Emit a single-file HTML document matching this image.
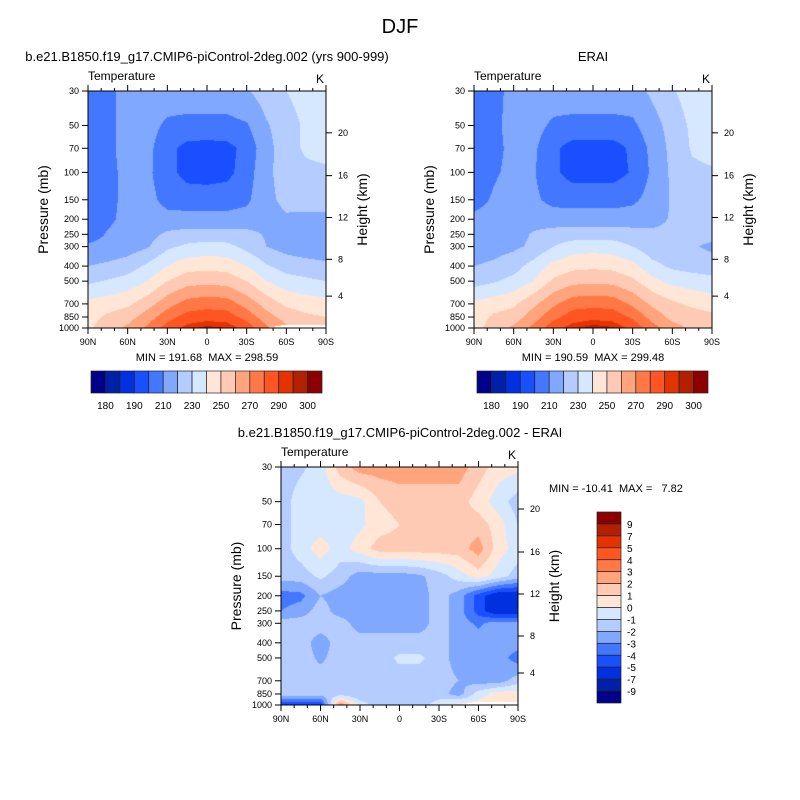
<!DOCTYPE html>
<html><head><meta charset="utf-8">
<style>
body{margin:0;background:#fff;width:800px;height:800px;overflow:hidden;position:relative;font-family:"Liberation Sans",sans-serif;}
canvas{position:absolute;}
svg{position:absolute;left:0;top:0;}
text{font-family:"Liberation Sans",sans-serif;fill:#000;white-space:pre;}
</style></head><body>
<canvas id="c1" width="238" height="237" style="left:88px;top:91px"></canvas>
<canvas id="c2" width="238" height="237" style="left:474px;top:91px"></canvas>
<canvas id="c3" width="237" height="238" style="left:281px;top:467px"></canvas>
<svg id="s" width="800" height="800"></svg>
<script>
const levels=[30,50,70,100,150,200,250,300,400,500,700,850,1000];
const lats=[90,75,60,45,30,15,0,-15,-30,-45,-60,-75,-90];
const latTicks=['90N','60N','30N','0','30S','60S','90S'];
const pTicks=[30,50,70,100,150,200,250,300,400,500,700,850,1000];
const hTicks=[4,8,12,16,20];
const hTickOffsets=[206,169,127,85,42];
const colors=['#000088','#0020a8','#0030e0','#1a4fff','#4477ff','#80a8ff','#b4ccff','#d6e8ff','#ffe6d6','#ffcab4','#ffa47c','#ff7846','#ff5522','#e23300','#b32000','#8b0000'];
const tempLevels=[180,185,190,200,210,220,230,240,250,260,270,280,290,295,300];
const tempLabels=['180','190','210','230','250','270','290','300'];
const diffLevels=[-9,-7,-5,-4,-3,-2,-1,0,1,2,3,4,5,7,9];
const modelPsfc=[1000,1000,1000,1000,1000,1000,1000,1000,1000,1000,950,950,950];
const eraiPsfc=[1000,1000,1000,1000,1000,1000,1000,1000,1000,1000,1000,1000,1000];
const modelT=[
[202,208,213,215,216,216,216,216,219,225,230,235,236],
[205,208,213,214,208,207,207,207,209,219,225,232,235],
[205,208,213,213,203,197,196,197,203,217,225,232,234],
[205,208,212,212,204,196,195,197,205,218,224,227,228],
[205,207,213,213,207,206,206,206,208,218,222,225,225],
[205,208,213,215,213,213,213,213,214,217,219,217,217],
[205,211,214,216,222,224,224,224,223,219,216,216,216],
[212,213,215,219,228,232,234,233,227,220,216,214,214],
[220,222,225,232,240,246,247,246,240,231,226,224,222],
[228,231,234,240,250,256,257,256,250,240,234,232,230],
[243,245,248,256,266,274,276,275,266,256,248,245,244],
[246,252,256,265,276,284,286,285,276,264,256,252,250],
[248,256,262,272,284,293,297,295,286,272,262,257,254]];
const eraiT=[
[205,207,213,215,216,216,216,216,216,222,229,235,236],
[205,208,213,214,208,207,207,207,208,216,224,232,235],
[205,208,212,212,202,196,196,196,202,213,223,231,233],
[205,209,212,211,202,196,196,196,201,212,222,228,229],
[207,211,214,212,207,206,206,206,208,214,221,223,224],
[212,213,214,216,215,215,215,215,215,217,221,223,223],
[213,214,216,221,224,225,225,225,224,222,222,223,223],
[214,216,218,222,230,235,236,235,230,224,223,221,218],
[220,222,226,234,243,247,248,247,243,233,228,226,225],
[226,229,233,240,252,257,258,257,252,243,237,235,233],
[242,245,248,258,268,276,277,276,268,258,252,248,246],
[244,252,255,265,277,285,287,286,278,266,257,255,252],
[246,255,262,273,286,294,298,296,287,274,264,258,256]];
const diffT=[
[-1.5,-1.2,-0.5,1.5,2.5,2.5,2.5,2.5,2.5,2.5,1.5,0.5,0.3],
[-1.5,-0.5,-0.5,-0.5,-0.3,1.0,1.5,1.5,1.5,1.5,0.5,-0.5,-1.5],
[-1.5,-0.5,-0.5,-0.5,-0.2,0.5,1.0,1.5,1.5,1.5,1.5,0.5,-1.0],
[-1.5,-0.5,0.5,-0.5,0.5,1.5,1.5,1.5,1.5,1.5,2.5,0.5,-0.5],
[-1.5,-1.5,-0.8,-1.5,-2.5,-2.5,-2.5,-2.2,-1.5,-0.5,0.5,-0.5,-1.5],
[-3.5,-3.3,-2.0,-2.5,-2.5,-2.5,-2.5,-2.5,-1.5,-2.5,-4.5,-6,-6],
[-3.0,-2.5,-1.5,-2.5,-2.5,-2.5,-2.5,-2.5,-1.5,-2.5,-4.5,-6,-6],
[-1.5,-1.5,-1.5,-1.5,-2.5,-2.5,-2.5,-2.5,-1.5,-2.5,-3.2,-2.5,-2.5],
[-1.5,-1.5,-2.5,-1.5,-1.5,-1.5,-1.5,-1.5,-1.5,-2.5,-2.5,-2.5,-2.5],
[-1.5,-1.5,-2.2,-1.5,-1.5,-1.5,-0.8,-0.8,-1.5,-2.5,-2.5,-2.5,-3.5],
[-1.5,-1.5,-1.5,-1.5,-1.5,-1.5,-1.5,-1.5,-1.5,-2.0,-2.5,-2.5,-1.5],
[-1.5,-1.5,-1.5,-1.5,-1.8,-1.5,-1.5,-1.5,-1.5,-2.5,-0.5,0.5,0.5],
[-5,-5,-5,3,-0.5,-1.5,-1.5,-1.5,-0.5,0.5,0.5,0.5,0.5]];

const LP0=Math.log10(30),LP1=Math.log10(1000);
function pToFrac(p){return (Math.log10(p)-LP0)/(LP1-LP0);}
function latToFrac(l){return (90-l)/180;}
function colorIdx(v,lv){let i=0;while(i<lv.length&&v>=lv[i])i++;return i;}
function hex(c){return [parseInt(c.slice(1,3),16),parseInt(c.slice(3,5),16),parseInt(c.slice(5,7),16)];}
const rgb=colors.map(hex);
function drawField(id,grid,lv,psfc){
  const cv=document.getElementById(id),ctx=cv.getContext('2d');
  const W=cv.width,H=cv.height,img=ctx.createImageData(W,H);
  const lf=levels.map(pToFrac);
  for(let y=0;y<H;y++){
    const fy=(y+0.5)/H;let j=0;while(j<levels.length-2&&lf[j+1]<fy)j++;
    const ty=Math.min(1,Math.max(0,(fy-lf[j])/(lf[j+1]-lf[j])));
    const p=Math.pow(10,LP0+fy*(LP1-LP0));
    for(let x=0;x<W;x++){
      const fx=(x+0.5)/W*(lats.length-1);let i=Math.min(lats.length-2,Math.floor(fx));const tx=fx-i;
      const k=(y*W+x)*4;
      const ps=psfc[i]*(1-tx)+psfc[i+1]*tx;
      if(p>ps){img.data[k]=255;img.data[k+1]=255;img.data[k+2]=255;img.data[k+3]=255;continue;}
      const a=grid[j][i],b=grid[j][i+1],c=grid[j+1][i],d=grid[j+1][i+1];
      const v=(a*(1-tx)+b*tx)*(1-ty)+(c*(1-tx)+d*tx)*ty;
      const col=rgb[colorIdx(v,lv)];
      img.data[k]=col[0];img.data[k+1]=col[1];img.data[k+2]=col[2];img.data[k+3]=255;
    }
  }
  ctx.putImageData(img,0,0);
}
drawField('c1',modelT,tempLevels,modelPsfc);
drawField('c2',eraiT,tempLevels,eraiPsfc);
drawField('c3',diffT,diffLevels,modelPsfc);

const NS='http://www.w3.org/2000/svg',svg=document.getElementById('s');
function el(tag,attrs,parent){const e=document.createElementNS(NS,tag);for(const k in attrs)e.setAttribute(k,attrs[k]);(parent||svg).appendChild(e);return e;}
function txt(x,y,s,size,anchor,parent,rot){const t=el('text',{x:x,y:y,'font-size':size,'text-anchor':anchor||'start'},parent);if(rot)t.setAttribute('transform','rotate(-90 '+x+' '+y+')');t.textContent=s;return t;}

function axes(X,Y,W,H,name){
  const g=el('g',{});
  
  
  el('rect',{x:X,y:Y,width:W,height:H,fill:'none',stroke:'#000','stroke-width':1},g);
  for(let l=90;l>=-90;l-=10){
    const x=X+latToFrac(l)*W,maj=(l%30===0),len=maj?6:3;
    el('line',{x1:x,y1:Y+H,x2:x,y2:Y+H+len,stroke:'#000'},g);
    el('line',{x1:x,y1:Y,x2:x,y2:Y-len,stroke:'#000'},g);
  }
  latTicks.forEach((s,i)=>{const x=X+i*W/6;const t=txt(x,Y+H+17,s,9,'middle',g);});
  pTicks.forEach(p=>{const y=Y+pToFrac(p)*H;el('line',{x1:X,y1:y,x2:X-6,y2:y,stroke:'#000'},g);const t=txt(X-9,y+3,String(p),9,'end',g);});
  hTicks.forEach((h,i)=>{const y=Y+hTickOffsets[i]*H/238;el('line',{x1:X+W,y1:y,x2:X+W+6,y2:y,stroke:'#000'},g);const t=txt(X+W+12,y+3,String(h),9,'start',g);});
  const a=txt(X-40,Y+H/2,'Pressure (mb)',14,'middle',g,true);
  
  const b=txt(X+W+41,Y+H/2,'Height (km)',14,'middle',g,true);
  
  const c=txt(X,Y-11,'Temperature',12,'start',g);
  
  const d=txt(X+W-2,Y-8,'K',12,'end',g);
  
}
function hbar(X,Y,W,H,name){
  const g=el('g',{});
  
  
  const bw=W/colors.length;
  colors.forEach((c,i)=>{const r=el('rect',{x:X+i*bw,y:Y,width:bw,height:H,fill:c,stroke:'#222','stroke-width':0.7},g);});
  tempLabels.forEach((s,i)=>{txt(X+(2*i+1)*bw,Y+H+16,s,10,'middle',g);});
}
axes(88,91,238,237,'model');
axes(474,91,238,237,'erai');
axes(281,467,237,238,'diff');

const t0=txt(400,33,'DJF',20,'middle');
const t1=txt(207,61,'b.e21.B1850.f19_g17.CMIP6-piControl-2deg.002 (yrs 900-999)',13,'middle');
const t2=txt(593,61,'ERAI',13,'middle');
const t3=txt(400,437,'b.e21.B1850.f19_g17.CMIP6-piControl-2deg.002 - ERAI',13,'middle');
const m1=txt(207,361,'MIN = 191.68  MAX = 298.59',11,'middle');
const m2=txt(593,361,'MIN = 190.59  MAX = 299.48',11,'middle');
const m3=txt(549,492,'MIN = -10.41  MAX =   7.82',11,'start');
hbar(91,371,231,22,'model-colorbar');
hbar(477,371,231,22,'erai-colorbar');
(function(){
  const g=el('g',{});
  
  
  const X=597,Y=512,W=24,H=191,bh=H/colors.length;
  colors.slice().reverse().forEach((c,i)=>{const r=el('rect',{x:X,y:Y+i*bh,width:W,height:bh,fill:c,stroke:'#222','stroke-width':0.7},g);});
  diffLevels.slice().reverse().forEach((v,i)=>{txt(X+W+6,Y+(i+1)*bh+4,String(v),10,'start',g);});
})();
</script>
</body></html>
